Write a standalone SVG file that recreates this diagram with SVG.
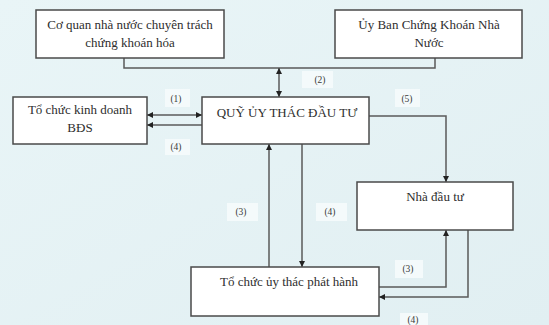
<svg xmlns="http://www.w3.org/2000/svg" width="549" height="325" viewBox="0 0 549 325">
<defs>
<linearGradient id="bg" x1="0" y1="0" x2="1" y2="1">
<stop offset="0" stop-color="#e9f5f7"/>
<stop offset="1" stop-color="#e1eff2"/>
</linearGradient>
<marker id="ah" viewBox="0 0 10 10" refX="10" refY="5" markerWidth="6" markerHeight="6" markerUnits="userSpaceOnUse" orient="auto-start-reverse">
<path d="M0,0 L10,5 L0,10 z" fill="#222"/>
</marker>
<style>
.box{fill:#fff;stroke:#4a4a4a;stroke-width:1.5}
.t{font-family:"Liberation Serif","Times New Roman",serif;font-size:13px;fill:#2e2e2e;text-anchor:middle}
.lbl{font-family:"Liberation Serif","Times New Roman",serif;font-size:9.5px;fill:#3a3a3a;text-anchor:middle}
.patch{fill:#f4fafb}
.ln{fill:none;stroke:#5a5a5a;stroke-width:1.5}
</style>
</defs>
<rect width="549" height="325" fill="url(#bg)"/>

<g id="labels">
<rect class="patch" x="302" y="71" width="31" height="17"/>
<text class="lbl" x="320" y="83">(2)</text>
<rect class="patch" x="165" y="89" width="25" height="18"/>
<text class="lbl" x="176" y="102">(1)</text>
<rect class="patch" x="165" y="139" width="25" height="16"/>
<text class="lbl" x="176" y="150">(4)</text>
<rect class="patch" x="395" y="89" width="25" height="18"/>
<text class="lbl" x="407" y="102">(5)</text>
<rect class="patch" x="227" y="203" width="31" height="18"/>
<text class="lbl" x="241" y="215">(3)</text>
<rect class="patch" x="316" y="203" width="31" height="18"/>
<text class="lbl" x="330" y="215">(4)</text>
<rect class="patch" x="395" y="260" width="28" height="18"/>
<text class="lbl" x="408" y="272">(3)</text>
<rect class="patch" x="400" y="313" width="28" height="12"/>
<text class="lbl" x="413" y="323">(4)</text>
</g>

<g id="connectors">
<polyline class="ln" points="124,58 124,68 435,68 435,58"/>
<line class="ln" x1="279" y1="68" x2="279" y2="97" marker-start="url(#ah)" marker-end="url(#ah)"/>
<line class="ln" x1="147" y1="115" x2="202" y2="115" marker-start="url(#ah)" marker-end="url(#ah)"/>
<line class="ln" x1="202" y1="125" x2="147" y2="125" marker-end="url(#ah)"/>
<polyline class="ln" points="369,116 446,116 446,182" marker-end="url(#ah)"/>
<line class="ln" x1="269" y1="267" x2="269" y2="144" marker-end="url(#ah)"/>
<line class="ln" x1="302" y1="144" x2="302" y2="267" marker-end="url(#ah)"/>
<polyline class="ln" points="379,287 446,287 446,230" marker-end="url(#ah)"/>
<polyline class="ln" points="468,230 468,297 379,297" marker-end="url(#ah)"/>
</g>

<g id="node-coquan">
<rect class="box" x="36" y="10" width="188" height="48"/>
<text class="t" x="130" y="29">Cơ quan nhà nước chuyên trách</text>
<text class="t" x="130" y="47">chứng khoán hóa</text>
</g>
<g id="node-uyban">
<rect class="box" x="335" y="10" width="187" height="48"/>
<text class="t" x="429" y="29">Ủy Ban Chứng Khoán Nhà</text>
<text class="t" x="429" y="47">Nước</text>
</g>
<g id="node-bds">
<rect class="box" x="13" y="97" width="134" height="47"/>
<text class="t" x="80" y="114">Tổ chức kinh doanh</text>
<text class="t" x="80" y="132">BĐS</text>
</g>
<g id="node-quy">
<rect class="box" x="202" y="97" width="167" height="47"/>
<text class="t" x="287" y="117">QUỸ ỦY THÁC ĐẦU TƯ</text>
</g>
<g id="node-nhadautu">
<rect class="box" x="357" y="182" width="156" height="48"/>
<text class="t" x="435" y="201">Nhà đầu tư</text>
</g>
<g id="node-tochucuythac">
<rect class="box" x="191" y="267" width="188" height="49"/>
<text class="t" x="289" y="286">Tổ chức ủy thác phát hành</text>
</g>
</svg>
